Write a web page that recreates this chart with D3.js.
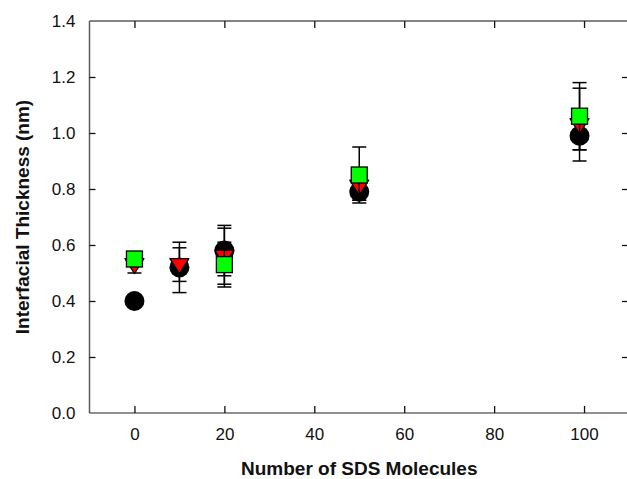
<!DOCTYPE html>
<html><head><meta charset="utf-8">
<script src="https://cdn.jsdelivr.net/npm/d3@7"></script>
<style>body{margin:0;background:#fff}svg{display:block}text{font-family:"Liberation Sans",Arial,Helvetica,sans-serif}</style>
</head><body><svg id="c" width="627" height="479"></svg>
<script>
// Data
const xTicks = [0, 20, 40, 60, 80, 100];
const yTicks = [0.0, 0.2, 0.4, 0.6, 0.8, 1.0, 1.2, 1.4];
const circleX = [0, 10, 20, 50, 99];
const circleY = [0.40, 0.52, 0.58, 0.79, 0.99];
const circleErr = [0.01, 0.09, 0.09, 0.03, 0.05];
const triX = [0, 10, 20, 50, 99];
const triY = [0.53, 0.53, 0.56, 0.81, 1.03];
const triErr = [0.03, 0.06, 0.10, 0.05, 0.13];
const sqX = [0, 20, 50, 99];
const sqY = [0.55, 0.53, 0.85, 1.06];
const sqErr = [0.01, 0.08, 0.10, 0.12];

const svg = d3.select("#c");
const L = 89.5, R = 629, T = 21, B = 413;
const x = d3.scaleLinear().domain([-10, 110]).range([L, R]);
const y = d3.scaleLinear().domain([0, 1.4]).range([B, T]);

// frame
svg.append("line").attr("x1", L).attr("x2", L).attr("y1", T).attr("y2", B).attr("stroke", "#5a5a5a").attr("stroke-width", 1.5);
svg.append("line").attr("x1", L).attr("x2", R).attr("y1", T).attr("y2", T).attr("stroke", "#5a5a5a").attr("stroke-width", 1.5);
svg.append("line").attr("x1", L).attr("x2", R).attr("y1", B).attr("y2", B).attr("stroke", "#222").attr("stroke-width", 1.2);
svg.append("line").attr("x1", R-1).attr("x2", R-1).attr("y1", T).attr("y2", B).attr("stroke", "#5a5a5a").attr("stroke-width", 1.5);

// axes via d3
const fmtY = d3.format(".1f");
const gB = svg.append("g").attr("transform", `translate(0,${B})`)
  .call(d3.axisBottom(x).tickValues(xTicks).tickSize(-7).tickPadding(15).tickFormat(d3.format("d")));
const gT = svg.append("g").attr("transform", `translate(0,${T})`)
  .call(d3.axisTop(x).tickValues(xTicks).tickSize(-7).tickFormat(""));
const gL = svg.append("g").attr("transform", `translate(${L},0)`)
  .call(d3.axisLeft(y).tickValues(yTicks).tickSize(-6).tickPadding(14).tickFormat(fmtY));
const gR = svg.append("g").attr("transform", `translate(${R-1},0)`)
  .call(d3.axisRight(y).tickValues(yTicks).tickSize(-6).tickFormat(""));
[gB, gT, gL, gR].forEach(g => {
  g.select(".domain").remove();
  g.selectAll(".tick line").attr("stroke", "#111").attr("stroke-width", 1.3);
  g.selectAll("text").attr("font-size", 17).attr("fill", "#111")
   .attr("font-family", '"Liberation Sans",Arial,Helvetica,sans-serif');
});
gL.selectAll(".tick line").filter(d => d === 0 || d === 1.4).remove();
gR.selectAll(".tick line").filter(d => d === 0 || d === 1.4).remove();

// titles
svg.append("text").attr("x", (L + R) / 2).attr("y", 475).attr("text-anchor", "middle")
  .attr("font-size", 19).attr("font-weight", "bold").attr("fill", "#111").text("Number of SDS Molecules");
svg.append("text").attr("transform", `translate(29,${(T + B) / 2}) rotate(-90)`).attr("text-anchor", "middle")
  .attr("font-size", 19).attr("font-weight", "bold").attr("fill", "#111").text("Interfacial Thickness (nm)");

function errbars(xs, ys, es) {
  const g = svg.append("g").attr("stroke", "#000").attr("stroke-width", 1.5);
  xs.forEach((xv, i) => {
    const cx = x(xv), y1 = y(ys[i] + es[i]), y0 = y(ys[i] - es[i]);
    g.append("line").attr("x1", cx).attr("x2", cx).attr("y1", y1).attr("y2", y0);
    g.append("line").attr("x1", cx - 7).attr("x2", cx + 7).attr("y1", y1).attr("y2", y1);
    g.append("line").attr("x1", cx - 7).attr("x2", cx + 7).attr("y1", y0).attr("y2", y0);
  });
}

// circles
errbars(circleX, circleY, circleErr);
svg.append("g").selectAll("circle").data(circleX).join("circle")
  .attr("cx", d => x(d)).attr("cy", (d, i) => y(circleY[i])).attr("r", 10).attr("fill", "#000");

// triangles (down)
errbars(triX, triY, triErr);
svg.append("g").selectAll("path").data(triX).join("path")
  .attr("transform", (d, i) => `translate(${x(d)},${y(triY[i])})`)
  .attr("d", "M-9.5,-6 L9.5,-6 L0,9 Z")
  .attr("fill", "#ff0000").attr("stroke", "#000").attr("stroke-width", 1.2).attr("stroke-linejoin", "round");

// squares
errbars(sqX, sqY, sqErr);
svg.append("g").selectAll("rect").data(sqX).join("rect")
  .attr("x", d => x(d) - 8).attr("y", (d, i) => y(sqY[i]) - 8).attr("width", 16).attr("height", 16)
  .attr("fill", "#00ff00").attr("stroke", "#000").attr("stroke-width", 1.3);
</script></body></html>
